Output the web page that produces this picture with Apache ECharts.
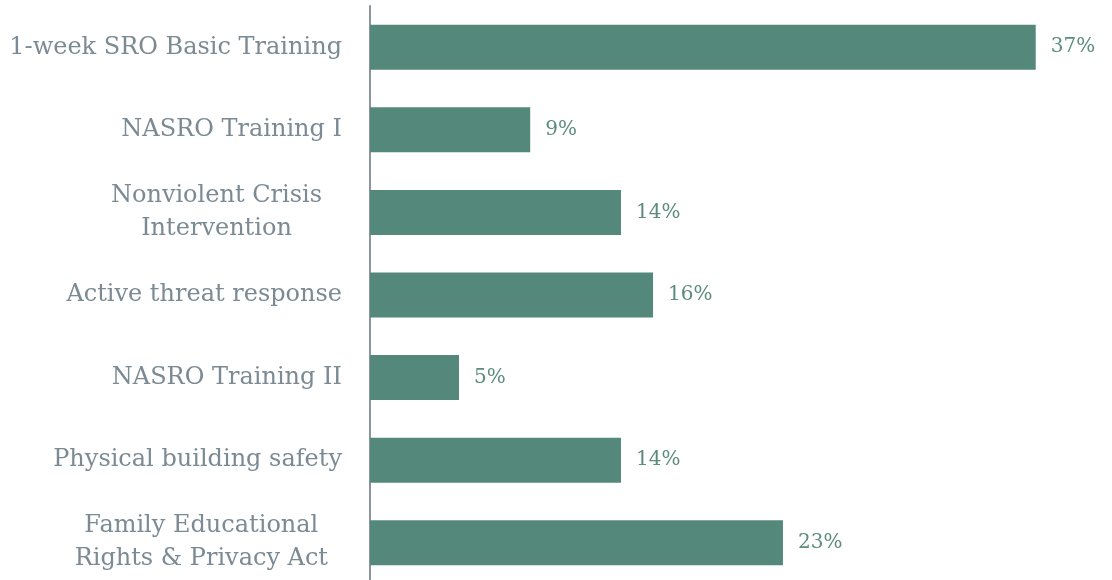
<!DOCTYPE html>
<html>
<head>
<meta charset="utf-8">
<script src="https://cdn.jsdelivr.net/npm/echarts@6/dist/echarts.min.js"></script>
<style>
  html, body { margin: 0; padding: 0; background: #fff; }
  #chart { width: 1112px; height: 580px; }
</style>
</head>
<body>
<div id="chart"></div>
<script>
const categories = [
  '1-week SRO Basic Training',
  'NASRO Training I',
  'Nonviolent Crisis\nIntervention',
  'Active threat response',
  'NASRO Training II',
  'Physical building safety',
  'Family Educational\nRights & Privacy Act'
];
const shares = [37.4, 9.0, 14.1, 15.9, 5.0, 14.1, 23.2];

const chart = echarts.init(document.getElementById('chart'));
const serif = 'DejaVu Serif';
const labelColor = '#7b8a93';

// wrapped labels sit a little further from the axis in the original
const extraGap = { 2: 20, 6: 14 };

chart.setOption({
  animation: false,
  grid: { left: 370, top: 6, width: 712, height: 578, outerBoundsMode: 'none' },
  xAxis: {
    type: 'value',
    min: 0,
    max: 40,
    show: false
  },
  yAxis: {
    type: 'category',
    inverse: true,
    data: categories.map((c, i) => extraGap[i]
      ? { value: c, textStyle: { padding: [0, extraGap[i], 0, 0] } }
      : c),
    axisLine: { lineStyle: { color: '#8c959b', width: 2 } },
    axisTick: { show: false },
    axisLabel: {
      margin: 28,
      color: labelColor,
      fontFamily: serif,
      fontSize: 24,
      lineHeight: 33,
      formatter: function (v) {
        // centre the lines of two-line labels inside their block
        return v.split('\n').map(s => '{c|' + s + '}').join('\n');
      },
      rich: {
        c: { align: 'center', color: labelColor, fontFamily: serif, fontSize: 24, lineHeight: 33 }
      }
    }
  },
  series: [{
    type: 'bar',
    data: shares,
    barWidth: 45,
    itemStyle: { color: '#54887a' },
    label: {
      show: true,
      position: 'right',
      distance: 15,
      color: '#5b8c7c',
      fontFamily: serif,
      fontSize: 20,
      formatter: p => Math.round(p.value) + '%'
    }
  }]
});
</script>
</body>
</html>
